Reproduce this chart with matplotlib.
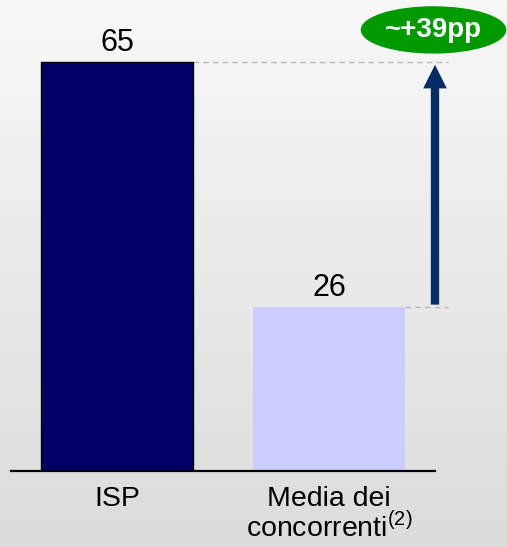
import numpy as np
import matplotlib
matplotlib.use('Agg')
import matplotlib.pyplot as plt
from matplotlib.patches import Ellipse, FancyArrowPatch

# dati
categorie = ['ISP', 'Media dei\nconcorrenti$^{\\mathrm{(2)}}$']
valori = [65, 26]
colori = ['#000066', '#ccccff']
delta_label = '~+39pp'

plt.rcParams['font.family'] = ['Liberation Sans', 'DejaVu Sans']
plt.rcParams['mathtext.fontset'] = 'custom'
plt.rcParams['mathtext.rm'] = 'Liberation Sans'

fig = plt.figure(figsize=(5.07, 5.47), dpi=100)

# sfondo sfumato
bg = fig.add_axes([0, 0, 1, 1], zorder=-1)
grad = np.linspace(0, 1, 256).reshape(-1, 1)
bg.imshow(grad, aspect='auto', cmap=matplotlib.colors.LinearSegmentedColormap.from_list('g', ['#f8f8f8', '#dcdcdc']),
          extent=[0, 1, 0, 1], origin='upper')
bg.axis('off')

ax = fig.add_axes([11 / 507, 76 / 547, 424 / 507, 471 / 547])
ax.set_facecolor('none')
x = np.arange(len(valori))
bars = ax.bar(x, valori, width=0.72, color=colori, zorder=2)
bars[0].set_edgecolor('black')
bars[0].set_linewidth(1)

ax.set_xlim(-0.5, 1.5)
ax.set_ylim(0, 65 * 471 / 409)

for xi, v in zip(x, valori):
    ax.annotate(str(v), (xi, v), xytext=(0, 3), textcoords='offset points',
                ha='center', va='bottom', fontsize=22)

# linee tratteggiate
x_end = 1.56
for xi, v in zip(x, valori):
    ax.plot([xi + 0.36, x_end], [v, v], ls=(0, (4, 3)), color='#b8b8b8', lw=1, clip_on=False, zorder=1)

# freccia
arrow = FancyArrowPatch((1.5, valori[1]), (1.5, valori[0]),
                        arrowstyle='simple,head_length=17,head_width=17,tail_width=6',
                        mutation_scale=1, color='#062c64', lw=0, clip_on=False, zorder=3)
ax.add_patch(arrow)

# etichetta verde
ell = Ellipse((1.493, 70.1), 0.68, 7.3, color='#009900', clip_on=False, zorder=4)
ax.add_patch(ell)
ax.text(1.493, 70.1, delta_label, color='white', fontsize=20, fontweight='bold',
        ha='center', va='center', zorder=5)

for s in ['top', 'right', 'left']:
    ax.spines[s].set_visible(False)
ax.spines['bottom'].set_linewidth(1.6)
ax.set_yticks([])
ax.set_xticks(x)
ax.set_xticklabels(categorie, fontsize=20.5, linespacing=1.0)
ax.tick_params(axis='x', length=0, pad=11)

plt.savefig('out.png', dpi=100)
